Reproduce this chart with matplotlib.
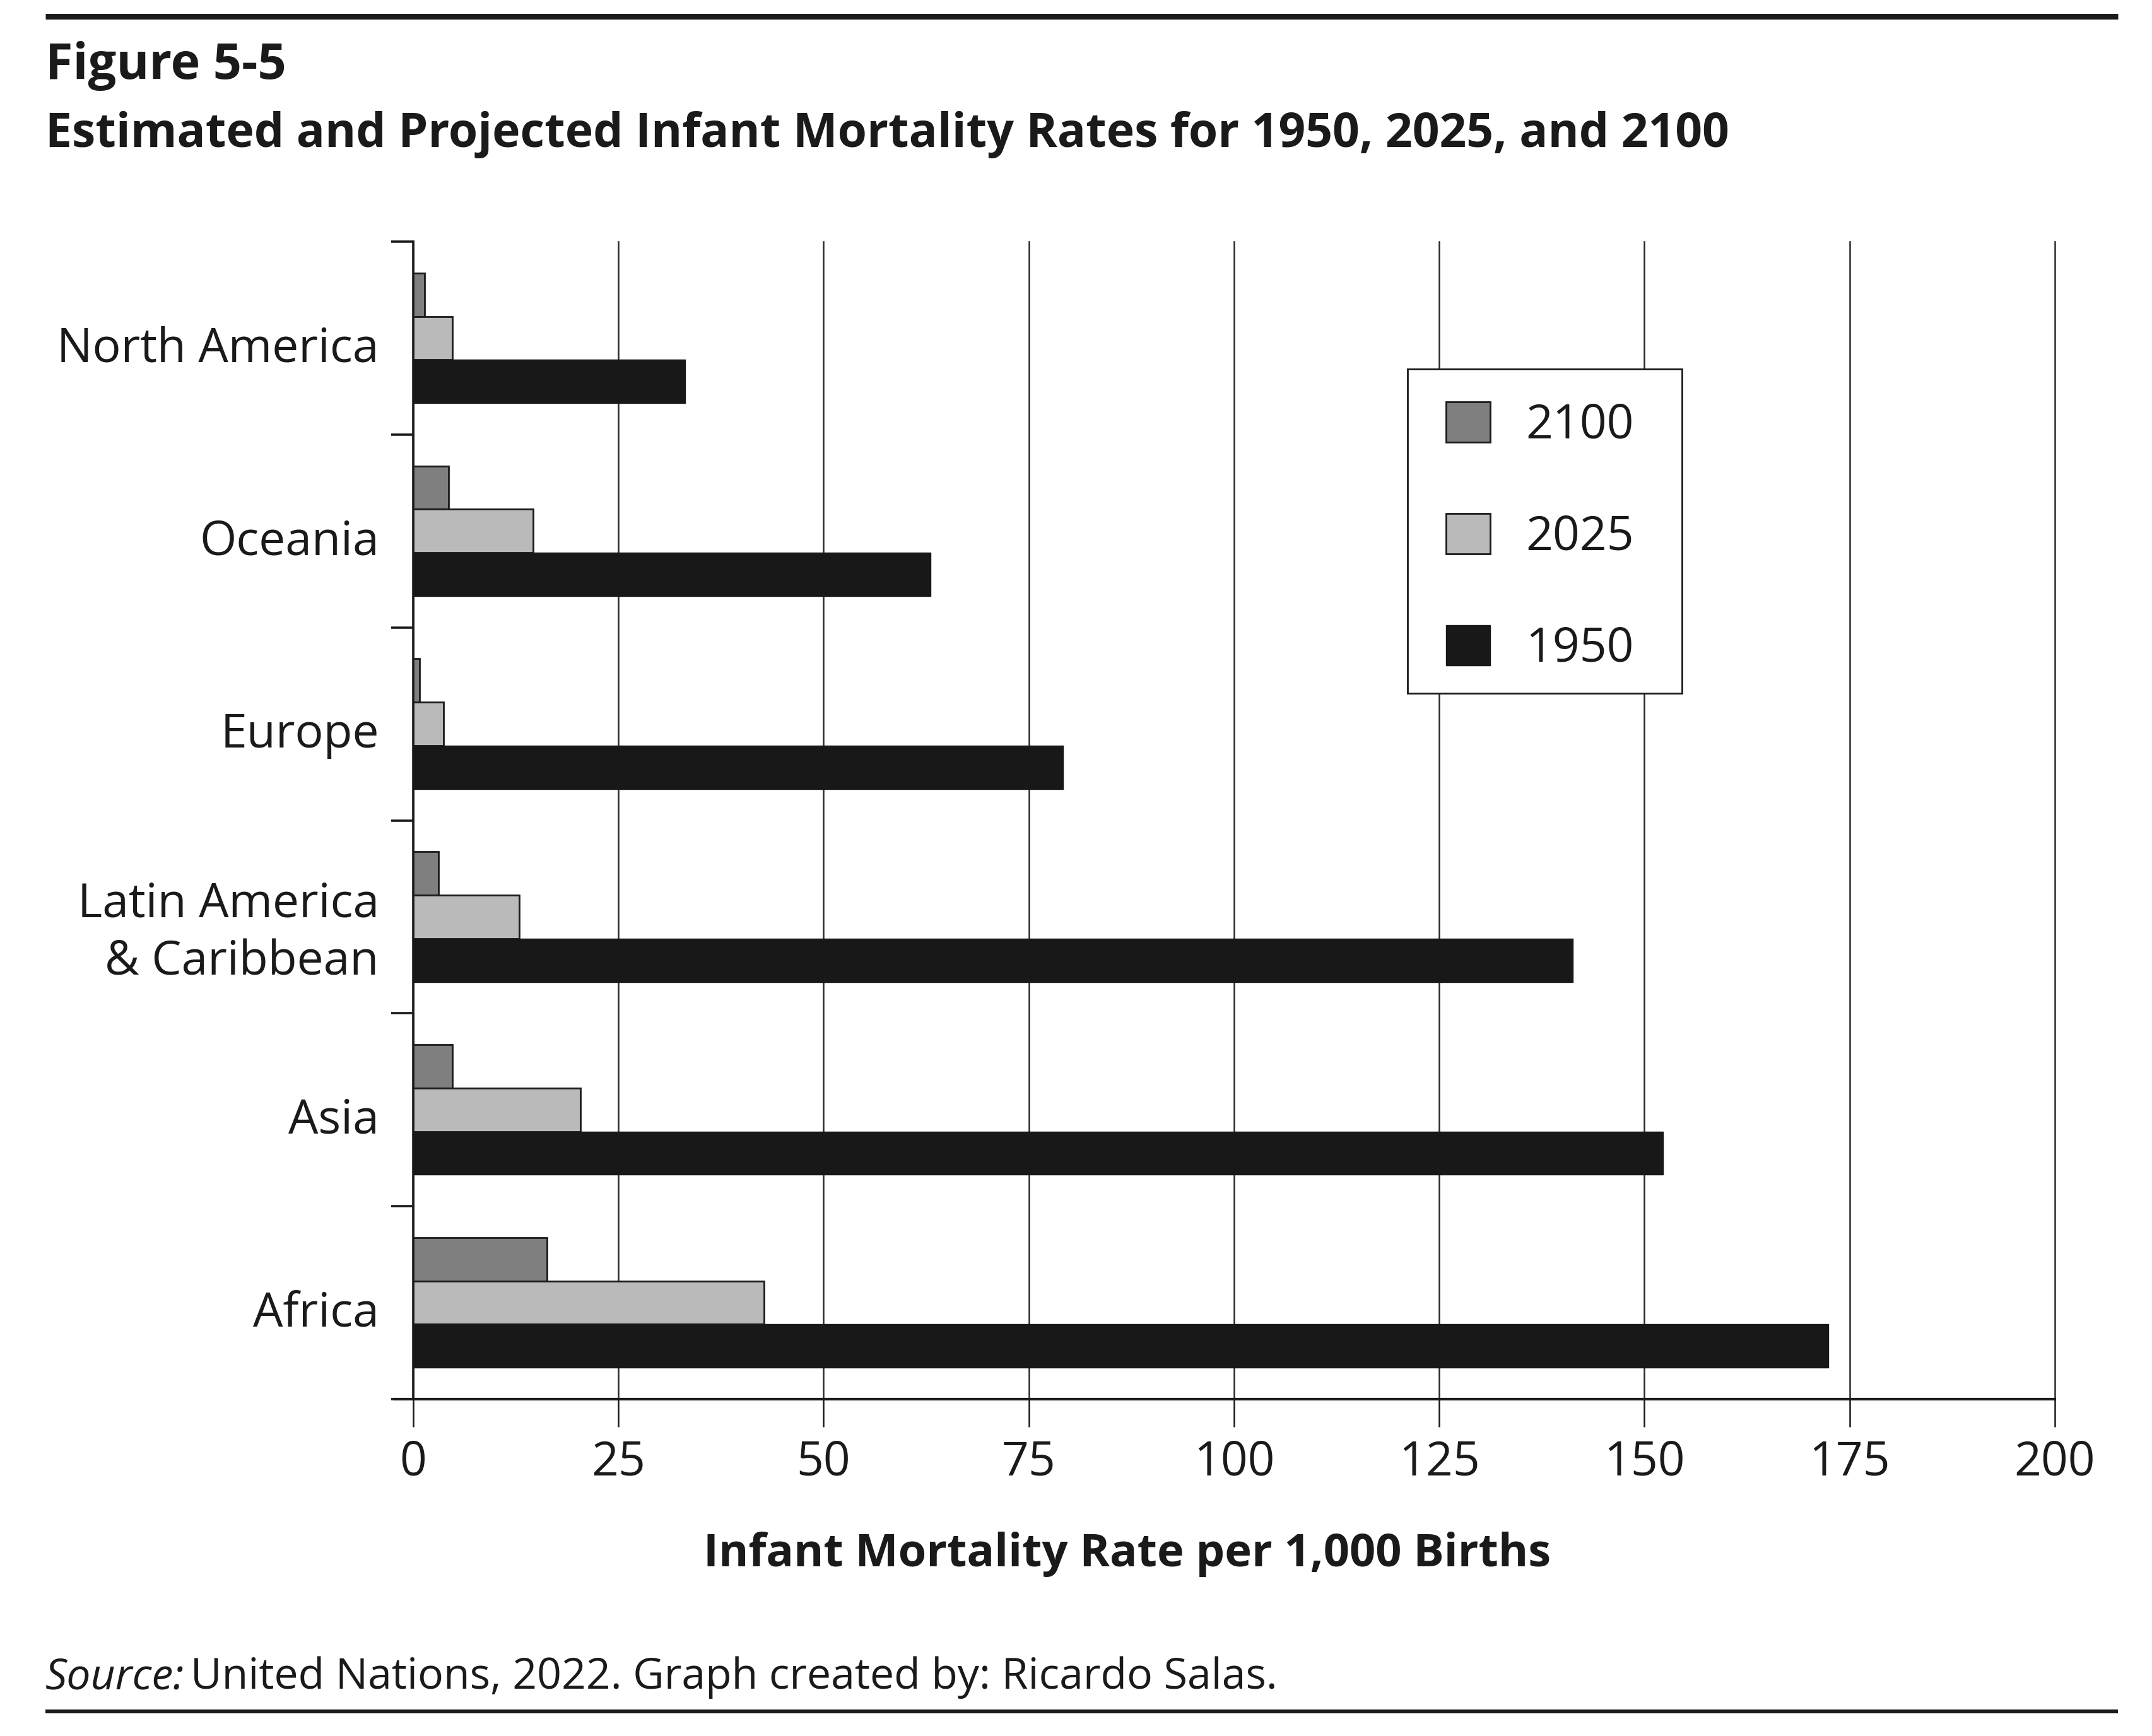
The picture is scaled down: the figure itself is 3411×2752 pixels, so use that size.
import matplotlib
matplotlib.use("Agg")
import matplotlib.pyplot as plt
import matplotlib.transforms as mtransforms
import numpy as np
from matplotlib.lines import Line2D
from matplotlib.patches import Rectangle
from matplotlib.ticker import FixedLocator, NullFormatter

plt.rcParams['font.family'] = ['Open Sans', 'DejaVu Sans']

# ---- data ----
regions = ["North America", "Oceania", "Europe", "Latin America\n& Caribbean", "Asia", "Africa"]
years = ["2100", "2025", "1950"]
rate_2100 = [1.4, 4.3, 0.8, 3.1, 4.8, 16.3]
rate_2025 = [4.8, 14.6, 3.7, 12.9, 20.4, 42.7]
rate_1950 = [33.1, 63.0, 79.2, 141.3, 152.3, 172.4]
x_ticks = [0, 25, 50, 75, 100, 125, 150, 175, 200]

TXT = "#1a1a1a"
W, H, DPI = 3412, 2752, 200
fig = plt.figure(figsize=(W / DPI, H / DPI), dpi=DPI)

def fx(px):
    return px / W

def fy(py):
    return 1 - py / H

ax = fig.add_axes([fx(655), fy(2218), fx(3257) - fx(655), fy(383) - fy(2218)])

y = np.arange(len(regions))
h = 0.225
ax.barh(y - h, rate_2100, height=h, color="#7f7f7f", edgecolor=TXT, linewidth=1.0, label=years[0], zorder=3)
ax.barh(y, rate_2025, height=h, color="#bababa", edgecolor=TXT, linewidth=1.0, label=years[1], zorder=3)
ax.barh(y + h, rate_1950, height=h, color="#181818", edgecolor="#181818", linewidth=0.5, label=years[2], zorder=3)

ax.set_xlim(0, 200)
ax.set_ylim(len(regions) - 0.5, -0.5)

ax.set_xticks(x_ticks)
ax.set_xticklabels([str(v) for v in x_ticks])
ax.tick_params(axis='x', direction='out', length=16, width=0.9, color=TXT,
               labelsize=27, labelcolor=TXT, pad=7)

# y: major ticks at category boundaries, labels at centers (minor)
ax.yaxis.set_major_locator(FixedLocator(np.arange(-0.5, len(regions), 1.0)))
ax.yaxis.set_major_formatter(NullFormatter())
ax.yaxis.set_minor_locator(FixedLocator(y))
ax.set_yticklabels(regions, minor=True)
ax.tick_params(axis='y', which='major', direction='out', length=12.6, width=1.3, color=TXT)
ax.tick_params(axis='y', which='minor', length=0, labelsize=27, labelcolor=TXT, pad=19.5)
shift = mtransforms.ScaledTranslation(0, -9 / DPI, fig.dpi_scale_trans)
for lab in ax.get_yticklabels(minor=True):
    lab.set_transform(lab.get_transform() + shift)
    lab.set_linespacing(1.3)

ax.grid(axis='x', color="#2a2a2a", linewidth=0.9)
for gl in ax.get_xgridlines():
    gl.set_clip_on(False)
ax.set_axisbelow(True)

for s in ["top", "right"]:
    ax.spines[s].set_visible(False)
ax.spines["left"].set_linewidth(1.3)
ax.spines["left"].set_color(TXT)
ax.spines["bottom"].set_linewidth(1.5)
ax.spines["bottom"].set_color(TXT)
# extend bottom axis line to the left under the y ticks
ext = (655 - 623) / (3257 - 655)
ax.add_line(Line2D([-ext, 0], [0, 0], transform=ax.transAxes, color=TXT,
                   linewidth=1.5, clip_on=False, solid_capstyle='butt'))

# legend: frame drawn as a separate box, entries placed inside it
frame = Rectangle((fx(2231), fy(1099)), fx(2666) - fx(2231), fy(585) - fy(1099),
                  transform=fig.transFigure, facecolor="white", edgecolor=TXT,
                  linewidth=1.0, zorder=4, clip_on=False)
ax.add_patch(frame)
leg = ax.legend(loc="upper left", bbox_to_anchor=(fx(2292), fy(637)),
                bbox_transform=fig.transFigure, fontsize=27, frameon=False,
                handlelength=0.93, handleheight=0.93, handletextpad=0.75,
                labelspacing=1.35, borderpad=0, borderaxespad=0)
leg.set_zorder(5)
for t in leg.get_texts():
    t.set_color(TXT)

fig.text(fx(1787), fy(2483), "Infant Mortality Rate per 1,000 Births", ha="center",
         va="baseline", fontsize=26, fontweight="bold", color=TXT)

# header
fig.text(fx(72), fy(125), "Figure 5-5", ha="left", va="baseline", fontsize=28.5,
         fontweight="bold", color=TXT)
fig.text(fx(72), fy(233), "Estimated and Projected Infant Mortality Rates for 1950, 2025, and 2100",
         ha="left", va="baseline", fontsize=27, fontweight="bold", color=TXT)

# rules
fig.add_artist(Line2D([fx(72), fx(3357)], [fy(26), fy(26)], transform=fig.transFigure,
                      color=TXT, linewidth=3.2, solid_capstyle='butt'))
fig.add_artist(Line2D([fx(72), fx(3357)], [fy(2713), fy(2713)], transform=fig.transFigure,
                      color=TXT, linewidth=2.2, solid_capstyle='butt'))

# source line
t1 = fig.text(fx(72), fy(2677), "Source:", ha="left", va="baseline", fontsize=24.5,
              style="italic", color=TXT)
fig.canvas.draw()
bb = t1.get_window_extent(renderer=fig.canvas.get_renderer())
fig.text(bb.x1 / W + fx(10), fy(2677), "United Nations, 2022. Graph created by: Ricardo Salas.",
         ha="left", va="baseline", fontsize=24.5, color=TXT)

fig.savefig("out.png", dpi=DPI)
